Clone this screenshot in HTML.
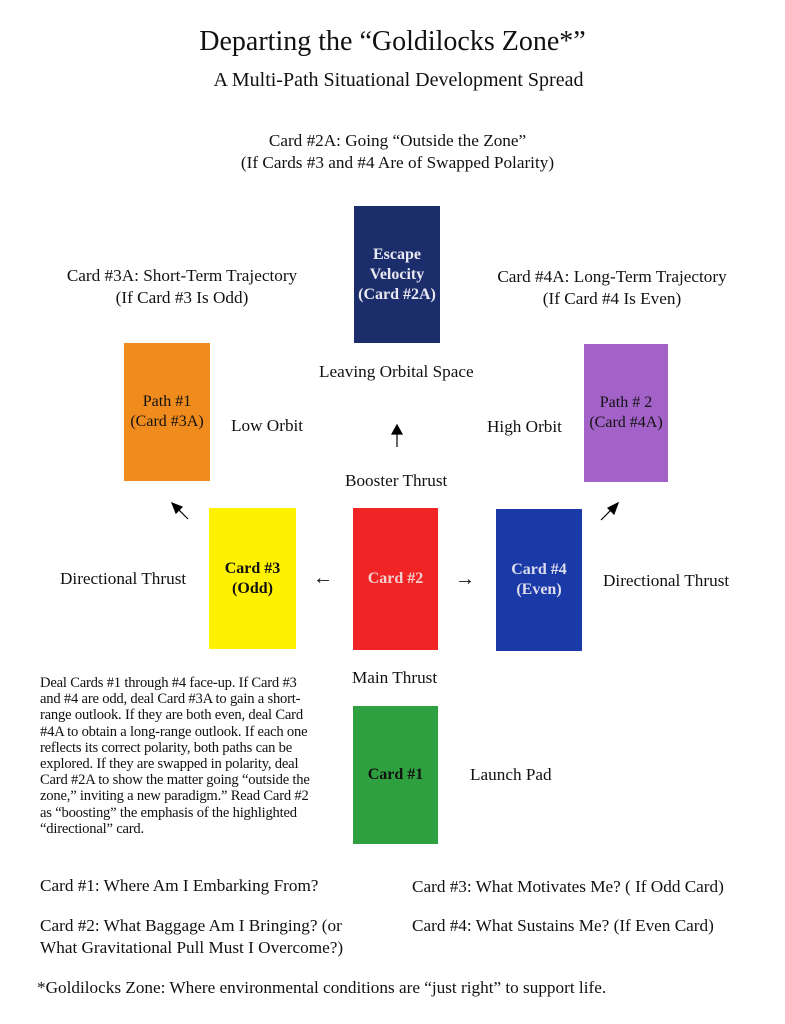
<!DOCTYPE html>
<html><head><meta charset="utf-8"><style>
body{margin:0;width:785px;height:1024px;background:#fff;position:relative;font-family:"Liberation Serif",serif;color:#111;overflow:hidden}
.t{position:absolute;white-space:nowrap}
.c{position:absolute;display:flex;align-items:center;justify-content:center;text-align:center;font-size:16px;line-height:20px}
.l{font-size:17.2px}
</style></head><body>
<div class="t" style="left:0;width:785px;text-align:center;top:26px;font-size:28px">Departing the “Goldilocks Zone*”</div>
<div class="t" style="left:0;width:797px;text-align:center;top:69px;font-size:20px">A Multi-Path Situational Development Spread</div>
<div class="t l" style="left:0;width:795px;text-align:center;top:130px;line-height:22px">Card #2A: Going “Outside the Zone”<br>(If Cards #3 and #4 Are of Swapped Polarity)</div>
<div class="t l" style="left:66px;top:265px;width:232px;text-align:center;line-height:22px">Card #3A: Short-Term Trajectory<br>(If Card #3 Is Odd)</div>
<div class="t l" style="left:497px;top:266px;width:230px;text-align:center;line-height:22px">Card #4A: Long-Term Trajectory<br>(If Card #4 Is Even)</div>

<div class="c" style="left:354px;top:206px;width:86px;height:137px;background:#1c2d6c;color:#e8e8f0;font-weight:bold">Escape<br>Velocity<br>(Card #2A)</div>
<div class="c" style="left:124px;top:343px;width:86px;height:138px;background:#f08c1e">Path #1<br>(Card #3A)</div>
<div class="c" style="left:584px;top:344px;width:84px;height:138px;background:#a262c8">Path # 2<br>(Card #4A)</div>
<div class="c" style="left:209px;top:508px;width:87px;height:141px;background:#fff200;font-weight:bold">Card #3<br>(Odd)</div>
<div class="c" style="left:353px;top:508px;width:85px;height:142px;background:#f02424;color:#f4d0d0;font-weight:bold">Card #2</div>
<div class="c" style="left:496px;top:509px;width:86px;height:142px;background:#1a3aa8;color:#dde;font-weight:bold">Card #4<br>(Even)</div>
<div class="c" style="left:353px;top:706px;width:85px;height:138px;background:#2fa040;font-weight:bold">Card #1</div>

<div class="t l" style="left:319px;top:362px">Leaving Orbital Space</div>
<div class="t l" style="left:231px;top:416px">Low Orbit</div>
<div class="t l" style="left:487px;top:417px">High Orbit</div>
<div class="t l" style="left:345px;top:471px">Booster Thrust</div>
<div class="t l" style="left:60px;top:569px">Directional Thrust</div>
<div class="t l" style="left:603px;top:571px">Directional Thrust</div>
<div class="t l" style="left:352px;top:668px">Main Thrust</div>
<div class="t l" style="left:470px;top:765px">Launch Pad</div>
<div class="t" style="left:313px;top:567px;font-size:20px">←</div>
<div class="t" style="left:455px;top:568px;font-size:20px">→</div>
<svg style="position:absolute;left:0;top:0" width="785" height="1024">
<g stroke="#000" stroke-width="1.2" fill="#000">
<line x1="397" y1="447" x2="397" y2="433"/><polygon points="392,434 402,434 397,425"/>
<line x1="188" y1="519" x2="176" y2="507"/><polygon points="172,503 182,507 176,513"/>
<line x1="601" y1="520" x2="613" y2="508"/><polygon points="618,503 614,514 608,508"/>
</g></svg>
<div class="t" style="left:40px;top:675px;font-size:14.6px;line-height:16.2px;letter-spacing:-0.2px">Deal Cards #1 through #4 face-up. If Card #3<br>and #4 are odd, deal Card #3A to gain a short-<br>range outlook. If they are both even, deal Card<br>#4A to obtain a long-range outlook. If each one<br>reflects its correct polarity, both paths can be<br>explored. If they are swapped in polarity, deal<br>Card #2A to show the matter going “outside the<br>zone,” inviting a new paradigm.” Read Card #2<br>as “boosting” the emphasis of the highlighted<br>“directional” card.</div>
<div class="t l" style="left:40px;top:876px">Card #1: Where Am I Embarking From?</div>
<div class="t l" style="left:412px;top:877px">Card #3: What Motivates Me? ( If Odd Card)</div>
<div class="t l" style="left:40px;top:915px;line-height:22px">Card #2: What Baggage Am I Bringing? (or<br>What Gravitational Pull Must I Overcome?)</div>
<div class="t l" style="left:412px;top:916px">Card #4: What Sustains Me? (If Even Card)</div>
<div class="t l" style="left:37px;top:978px">*Goldilocks Zone: Where environmental conditions are “just right” to support life.</div>
</body></html>
